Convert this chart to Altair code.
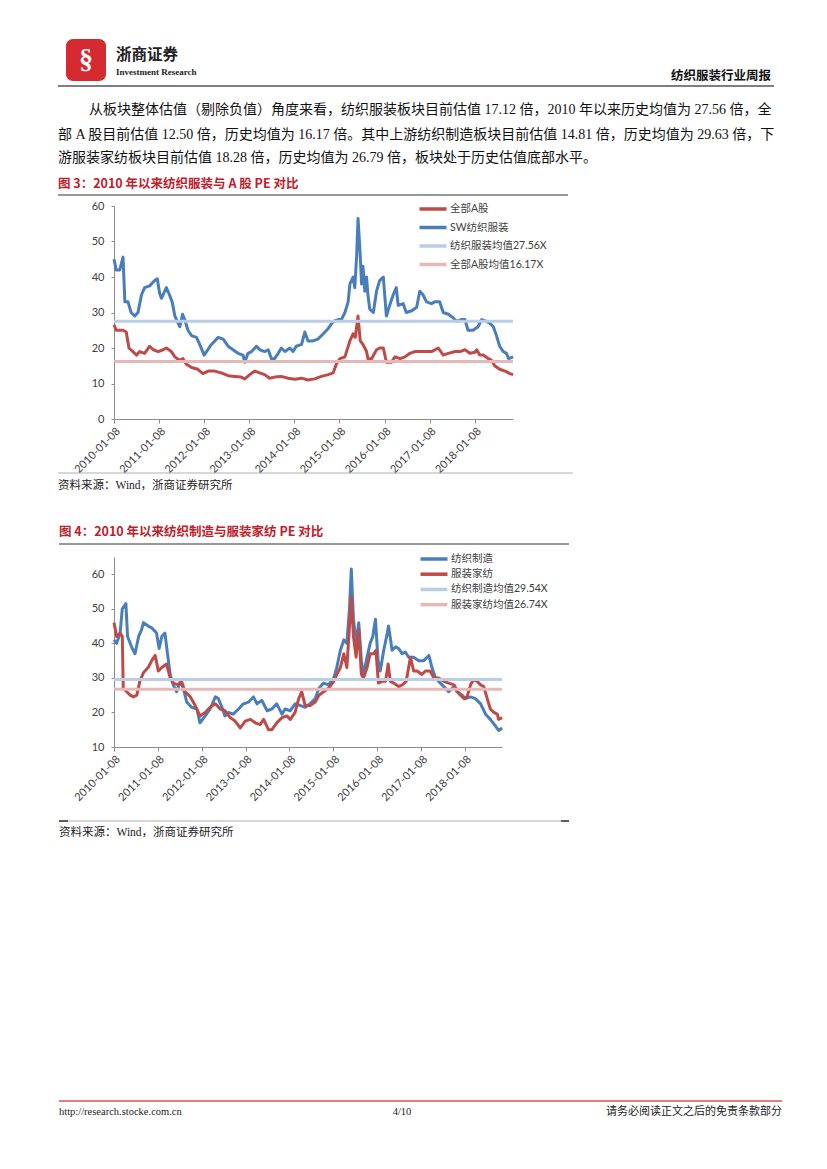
import altair as alt
import pandas as pd
import numpy as np

# ---------------- data ----------------
# chart 3: time in fractional years counted from 2010-01-08
t_a = [2010.00,2010.05,2010.13,2010.20,2010.27,2010.33,2010.42,2010.50,2010.57,2010.68,
       2010.79,2010.87,2010.98,2011.09,2011.16,2011.27,2011.35,2011.46,2011.53,2011.60,
       2011.72,2011.86,2011.97,2012.09,2012.23,2012.38,2012.53,2012.68,2012.82,2012.90,
       2013.01,2013.12,2013.23,2013.34,2013.45,2013.56,2013.71,2013.86,2014.01,2014.16,
       2014.30,2014.45,2014.60,2014.75,2014.86,2014.93,2015.01,2015.12,2015.23,2015.30,
       2015.35,2015.41,2015.46,2015.52,2015.60,2015.63,2015.71,2015.82,2015.89,2015.97,
       2016.04,2016.15,2016.23,2016.34,2016.45,2016.56,2016.67,2016.82,2016.93,2017.04,
       2017.19,2017.30,2017.41,2017.56,2017.67,2017.78,2017.89,2018.00,2018.04,2018.11,
       2018.19,2018.30,2018.37,2018.44,2018.55,2018.67,2018.78,2018.85]
pe_a = [26.5,25,25,25,24.5,20,19,18,19,18.5,
        20.5,19.5,19,19.5,20,19,17.5,16.5,17,15.5,
        14.5,14,12.8,13.5,13.5,13,12.2,12,11.8,11.3,
        12.5,13.5,13,12.5,11.5,11.8,12,11.5,11.2,11.5,
        11,11.3,12,12.5,13,15.5,17,17.5,22,24,
        23,29,22,21,19,17,17,19.5,20,20,
        16,16,17.5,17,17.5,18.5,19,19,19,19,
        20,18,18.5,19,19,19.5,18.5,18.8,19.5,18,
        18,17,16.5,15,14,13.5,12.8,12.5]

t_sw = [2010.00,2010.05,2010.13,2010.20,2010.24,2010.31,2010.38,2010.46,2010.53,2010.61,
        2010.68,2010.79,2010.90,2010.96,2011.01,2011.05,2011.16,2011.23,2011.29,2011.35,
        2011.42,2011.46,2011.52,2011.57,2011.64,2011.72,2011.83,2011.90,2012.00,2012.05,
        2012.16,2012.31,2012.42,2012.53,2012.64,2012.75,2012.86,2012.90,2012.97,2013.05,
        2013.16,2013.23,2013.34,2013.42,2013.49,2013.56,2013.64,2013.71,2013.79,2013.90,
        2013.97,2014.04,2014.16,2014.23,2014.30,2014.41,2014.52,2014.64,2014.75,2014.86,
        2014.97,2015.04,2015.12,2015.19,2015.23,2015.30,2015.34,2015.38,2015.41,2015.45,
        2015.49,2015.52,2015.56,2015.60,2015.63,2015.67,2015.75,2015.82,2015.89,2015.97,
        2016.00,2016.04,2016.11,2016.19,2016.26,2016.30,2016.41,2016.48,2016.60,2016.71,
        2016.78,2016.85,2016.93,2017.04,2017.11,2017.22,2017.30,2017.41,2017.52,2017.59,
        2017.70,2017.78,2017.85,2017.96,2018.07,2018.15,2018.26,2018.33,2018.41,2018.48,
        2018.55,2018.63,2018.70,2018.75,2018.85]
pe_sw = [45,42,42,45.6,33,33,30,29,30,35,
         37,37.5,39,39.5,35.5,34,37,35,33,29,
         27,26,29.5,28,25,23.5,23,21,18,19,
         21,23,22.5,20.5,19.5,18.5,18,16,18.5,19,
         20.5,19.5,19,19.5,17,17,18.5,20,19,20,
         19,20.5,21,24.5,22,22,22.5,24,25.5,27.5,
         28,28,30,33,38,40,37,46,56.5,48,
         38,43,36,40,35,31,30,36,39,40,
         35,29,32,35,37,32,32.5,30,30.5,31.5,
         36,35,33,32.5,33,33,30,29.5,28.5,27.5,
         28,28,25,25,26,28,27.5,27,26,23.5,
         20.5,19,18.5,17,17.5]

# chart 4
t_fz = [2010.00,2010.06,2010.14,2010.19,2010.27,2010.31,2010.40,2010.48,2010.56,2010.63,
        2010.67,2010.78,2010.86,2010.97,2011.03,2011.09,2011.16,2011.23,2011.28,2011.35,
        2011.43,2011.51,2011.58,2011.66,2011.77,2011.89,2011.96,2012.08,2012.19,2012.31,
        2012.38,2012.46,2012.53,2012.61,2012.72,2012.84,2012.95,2013.07,2013.18,2013.26,
        2013.37,2013.49,2013.60,2013.71,2013.83,2013.90,2014.02,2014.13,2014.25,2014.36,
        2014.47,2014.59,2014.67,2014.78,2014.89,2015.01,2015.08,2015.16,2015.24,2015.31,
        2015.37,2015.41,2015.46,2015.52,2015.58,2015.64,2015.69,2015.77,2015.84,2015.90,
        2015.96,2016.02,2016.07,2016.15,2016.23,2016.26,2016.34,2016.42,2016.49,2016.57,
        2016.64,2016.72,2016.83,2016.95,2017.06,2017.18,2017.25,2017.33,2017.44,2017.56,
        2017.63,2017.75,2017.82,2017.94,2018.01,2018.13,2018.24,2018.36,2018.47,2018.58,
        2018.70,2018.77,2018.85]
pe_fz = [41,40,43,50,51.5,42,39,37,42,44,
         46,45,44.5,43,38.5,42,43,36,31,28,
         26,29,27,23,21.5,21,17,19,21,24.5,
         24,21.5,19,20,19.5,21,22.5,23,24.5,22.5,
         23.5,20.5,21,22.5,19.5,21,20.5,22.5,22,21.5,
         22.5,24,27,28.5,28,30,33,38,41,40,
         50,61.5,47,40,46,35,31,36,40,42,
         47,35,32,38,43,45,38,39,38.5,37,
         37.5,36,36,35,35,36.5,33,30,28.5,27,
         26,27.5,26,25,24,24.5,24,22.5,19.5,18,
         16,14.8,15.5]

t_fj = [2010.00,2010.06,2010.14,2010.19,2010.21,2010.29,2010.37,2010.44,2010.52,2010.59,
        2010.67,2010.78,2010.86,2010.94,2011.01,2011.09,2011.20,2011.28,2011.35,2011.47,
        2011.54,2011.62,2011.74,2011.85,2011.96,2012.08,2012.19,2012.31,2012.42,2012.53,
        2012.65,2012.76,2012.88,2012.99,2013.11,2013.22,2013.33,2013.41,2013.52,2013.60,
        2013.71,2013.83,2013.94,2014.02,2014.13,2014.21,2014.28,2014.36,2014.47,2014.59,
        2014.67,2014.78,2014.89,2015.01,2015.08,2015.16,2015.24,2015.31,2015.37,2015.41,
        2015.46,2015.52,2015.58,2015.64,2015.69,2015.77,2015.84,2015.92,2015.97,2016.03,
        2016.11,2016.19,2016.25,2016.30,2016.38,2016.49,2016.57,2016.66,2016.76,2016.83,
        2016.91,2017.02,2017.10,2017.21,2017.29,2017.40,2017.52,2017.63,2017.75,2017.86,
        2017.98,2018.05,2018.13,2018.20,2018.28,2018.36,2018.43,2018.51,2018.58,2018.66,
        2018.74,2018.77,2018.85]
pe_fj = [46,42,43,42,27,26,25,24.5,25,29,
         31.5,33,35,36.5,32,33,34,30,28.5,28,
         29,26,24.5,22,19,20,21.5,22.5,21,20.5,
         18.5,17.5,15.5,17.5,18,17,16.5,18,15,15,
         17,18.5,19,18,20,24,26,22,22,23,
         25,26,27,29,31,33,37,33,45,53.5,
         42,36,44,31,30,33,37,37,38,28.5,
         29,29,34,29,28.5,27.5,28,29,36,32,
         32,31,32,32,30,30,29,28.5,28,25.5,
         24,24.5,28,29.5,29,28,27.5,24,21,20,
         19.5,18,18.5]

series3 = ["全部A股", "SW纺织服装", "纺织服装均值27.56X", "全部A股均值16.17X"]
means3 = [27.56, 16.17]
series4 = ["纺织制造", "服装家纺", "纺织制造均值29.54X", "服装家纺均值26.74X"]
means4 = [29.54, 26.74]
tick_years = list(range(2010, 2019))

RED = "#BE4B48"
BLUE = "#4A7EBB"
LBLUE = "#B9CDE5"
LRED = "#E6B9B8"

SERIF = "Liberation Serif, Noto Sans CJK SC"
CJK = "Noto Sans CJK SC"
AXF = "Lato, Noto Sans CJK SC"


def frame(t, v, name):
    base = pd.Timestamp("2010-01-08")
    days = np.round((np.array(t) - 2010.0) * 365.25)
    return pd.DataFrame({"date": base + pd.to_timedelta(days, unit="D"),
                         "pe": v, "series": name})


def txt(s, x, y, size, color="#000000", weight="normal", font=SERIF, align="left"):
    return alt.Chart(alt.Data(values=[{}])).mark_text(
        text=s, align=align, baseline="middle", fontSize=size, font=font,
        fontWeight=weight, color=color).encode(x=alt.value(x), y=alt.value(y))


def hrule(x1, x2, y, color, w=1.0):
    return alt.Chart(alt.Data(values=[{}])).mark_rule(
        color=color, strokeWidth=w).encode(x=alt.value(x1), x2=alt.value(x2), y=alt.value(y))


x_end = alt.DateTime(year=2018, month=11, date=13)
x_start = alt.DateTime(year=2010, month=1, date=8)


def pe_chart(frames, series, colors, means, ydom, yvals, lx, ly, rowpad):
    color = alt.Color("series:N", scale=alt.Scale(domain=series, range=colors),
                      legend=alt.Legend(title=None, orient="none", legendX=lx, legendY=ly,
                                        symbolType="M-2.25,0H2.25", symbolSize=144,
                                        symbolStrokeWidth=3.5, labelFontSize=10.5,
                                        labelFont=AXF, labelColor="#404040",
                                        labelOffset=9, padding=0, rowPadding=rowpad,
                                        labelLimit=200))
    x = alt.X("date:T", title=None,
              scale=alt.Scale(domain=[x_start, x_end], nice=False),
              axis=alt.Axis(values=[alt.DateTime(year=y, month=1, date=8) for y in tick_years],
                            format="%Y-%m-%d", labelAngle=-45, labelFontSize=11,
                            labelOverlap=False, labelBound=False,
                            tickSize=4, labelPadding=2))
    y = alt.Y("pe:Q", title=None, scale=alt.Scale(domain=ydom, nice=False, zero=False),
              axis=alt.Axis(values=yvals, tickSize=3, labelPadding=7, labelFontSize=11))
    layers = []
    for f in frames:
        layers.append(alt.Chart(f).mark_line(strokeWidth=3, strokeJoin="round")
                      .encode(x=x, y=y, color=color))
    mdf = pd.DataFrame({"series": series[2:], "pe": means})
    layers.append(alt.Chart(mdf).mark_rule(strokeWidth=3).encode(y=y, color=color))
    return layers


# ---------------- chart 3 block (origin = plot top-left at page 113,205) ----------------
c3 = pe_chart([frame(t_a, pe_a, series3[0]), frame(t_sw, pe_sw, series3[1])],
              series3, [RED, BLUE, LBLUE, LRED], means3, [0, 60], [0, 10, 20, 30, 40, 50, 60],
              311, -5, 3.5)

para1 = "从板块整体估值（剔除负值）角度来看，纺织服装板块目前估值 17.12 倍，2010 年以来历史均值为 27.56 倍，全"
para2 = "部 A 股目前估值 12.50 倍，历史均值为 16.17 倍。其中上游纺织制造板块目前估值 14.81 倍，历史均值为 29.63 倍，下"
para3 = "游服装家纺板块目前估值 18.28 倍，历史均值为 26.79 倍，板块处于历史估值底部水平。"

deco3 = [
    hrule(-105, -104, -197, "#FFFFFF"),
    hrule(-105, -104, 295, "#FFFFFF"),
    alt.Chart(alt.Data(values=[{}])).mark_rect(color="#D42A30", cornerRadius=7).encode(
        x=alt.value(-48), x2=alt.value(-8), y=alt.value(-167), y2=alt.value(-125)),
    txt("§", -28, -146, 28, "#FFFFFF", "bold", SERIF, "center"),
    txt("浙商证券", 2, -151, 15.5, "#222222", "bold", CJK),
    txt("Investment Research", 2, -134, 9, "#222222", "bold",
        "Liberation Sans Narrow, Liberation Serif"),
    txt("纺织服装行业周报", 657, -130, 12.5, "#111111", "bold", CJK, "right"),
    hrule(-56, 660, -120, "#555555", 1.3),
    txt(para1, -25, -96, 14, "#111111"),
    txt(para2, -56, -71, 14, "#111111"),
    txt(para3, -56, -48, 14, "#111111"),
    txt("图 3：2010 年以来纺织服装与 A 股 PE 对比", -56, -22, 12.5, "#C0202A", "bold", CJK),
    hrule(-56, 454, -11, "#333333", 1),
    hrule(-56, 459, 267, "#B0B0B0", 1),
    txt("资料来源：Wind，浙商证券研究所", -56, 280, 11.5, "#222222"),
]
block3 = alt.layer(*c3, *deco3).properties(width=399, height=213)

# ---------------- chart 4 block (origin = plot top-left at page 112,554) ----------------
c4 = pe_chart([frame(t_fz, pe_fz, series4[0]), frame(t_fj, pe_fj, series4[1])],
              series4, [BLUE, RED, LBLUE, LRED], means4, [10, 65], [10, 20, 30, 40, 50, 60],
              312, -6, 0.2)

deco4 = [
    hrule(-104, -103, -54, "#FFFFFF"),
    txt("图 4：2010 年以来纺织制造与服装家纺 PE 对比", -55, -25, 12.5, "#C0202A", "bold", CJK),
    hrule(-55, 455, -13, "#333333", 1),
    hrule(-55, 455, 264, "#B0B0B0", 1),
    hrule(-55, -46, 264, "#333333", 1.5),
    hrule(447, 455, 264, "#333333", 1.5),
    txt("资料来源：Wind，浙商证券研究所", -55, 276, 11.5, "#222222"),
    hrule(-55, 668, 544, "#C00000", 1.2),
    txt("http://research.stocke.com.cn", -55, 555, 10.5, "#222222"),
    txt("4/10", 288, 555, 10.5, "#222222", "normal", SERIF, "center"),
    txt("请务必阅读正文之后的免责条款部分", 668, 555, 11, "#222222", "normal", CJK, "right"),
]
block4 = alt.layer(*c4, *deco4).properties(width=388, height=190)

chart = alt.vconcat(block3, block4, spacing=0).resolve_scale(
    color="independent", x="independent", y="independent"
).resolve_legend(color="independent").properties(padding=0).configure_view(
    stroke=None
).configure_axis(
    grid=False, domainColor="#8C8C8C", tickColor="#8C8C8C", labelColor="#404040",
    labelFont=AXF
)

chart.save("out.html", embed_options={"renderer": "svg", "actions": False})
